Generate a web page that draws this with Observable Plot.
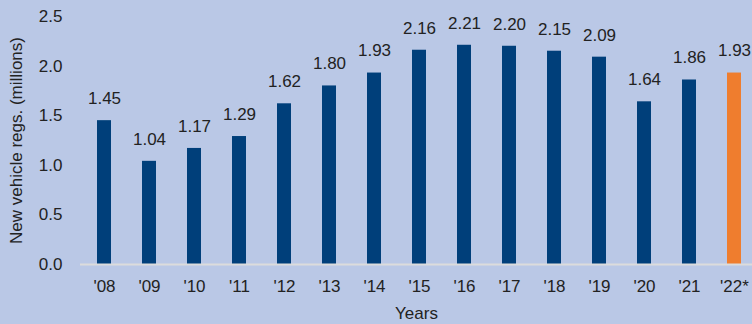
<!DOCTYPE html>
<html>
<head>
<meta charset="utf-8">
<script src="https://cdn.jsdelivr.net/npm/d3@7"></script>
<script src="https://cdn.jsdelivr.net/npm/@observablehq/plot@0.6"></script>
<style>
  html, body { margin: 0; padding: 0; background: #bac8e6; overflow: hidden; }
  #chart svg { display: block; }
</style>
</head>
<body>
<div id="chart"></div>
<script>
const years = ["'08","'09","'10","'11","'12","'13","'14","'15","'16","'17","'18","'19","'20","'21","'22*"];
const values = [1.45,1.04,1.17,1.29,1.62,1.80,1.93,2.16,2.21,2.20,2.15,2.09,1.64,1.86,1.93];
const yTicks = [0, 0.5, 1.0, 1.5, 2.0, 2.5];
const estimateYear = "'22*";

const data = years.map((year, i) => ({year, value: values[i]}));
const navy = "#003f7a";
const orange = "#ef7d2e";
const font = "'Liberation Sans', Arial, sans-serif";

const chart = Plot.plot({
  width: 752,
  height: 324,
  marginTop: 16,
  marginBottom: 60,
  marginLeft: 80,
  marginRight: 0,
  style: {background: "#bac8e6", fontFamily: font, color: "#222", overflow: "hidden"},
  x: {domain: years, range: [94.75, 743.25], paddingInner: 0.68, paddingOuter: 0},
  y: {domain: [0, 2.5]},
  marks: [
    Plot.barY(data, {x: "year", y: "value", fill: d => d.year === estimateYear ? orange : navy}),
    Plot.ruleY([0], {stroke: "#dcdcdc", strokeWidth: 2}),
    Plot.text(data, {x: "year", y: "value", text: d => d3.format(".2f")(d.value), dy: -22, fontSize: 17, fill: "#222"}),
    Plot.axisY({ticks: yTicks, tickFormat: d3.format(".1f"), tickSize: 0, tickPadding: 18, fontSize: 17,
      label: "New vehicle regs. (millions)", labelArrow: "none", labelAnchor: "center", labelOffset: 71}),
    Plot.axisX({tickSize: 0, tickPadding: 15, fontSize: 17, label: "Years", labelArrow: "none", labelAnchor: "center", labelOffset: 54})
  ]
});
document.getElementById("chart").appendChild(chart);
</script>
</body>
</html>
